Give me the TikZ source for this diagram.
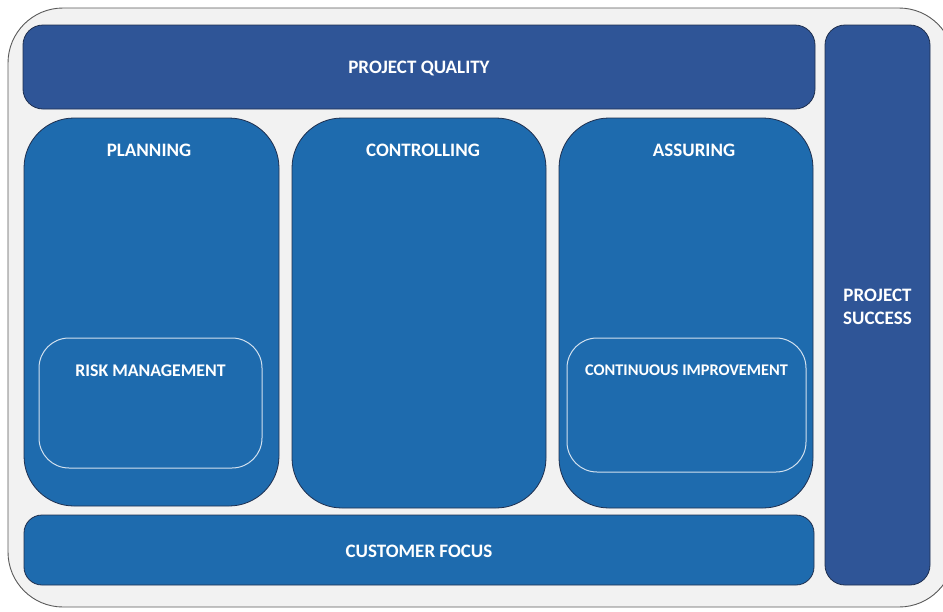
\documentclass[tikz,border=0pt]{standalone}
\usepackage{fontspec}
\setmainfont{Carlito}
\usetikzlibrary{positioning}

\definecolor{qualityblue}{HTML}{2F5597}
\definecolor{pillarblue}{HTML}{1E6BAE}
\definecolor{edgenavy}{HTML}{1F3050}
\definecolor{framegray}{HTML}{F2F2F2}

\tikzset{
    band/.style={draw=edgenavy, line width=0.8pt, fill=qualityblue,
        rounded corners=20pt, inner sep=0pt},
    pillar/.style={draw=edgenavy, line width=0.8pt, fill=pillarblue,
        rounded corners=50pt, inner sep=0pt},
    subbox/.style={draw=white!80!pillarblue, line width=1pt,
        rounded corners=30pt, inner sep=0pt},
    heading/.style={text=white, align=center,
        font=\bfseries\fontsize{19}{23}\selectfont},
}

\begin{document}
\begin{tikzpicture}[x=1pt,y=-1pt]
    \useasboundingbox (0,0) rectangle (943,611);
    \clip (0,0) rectangle (943,611);
    % outer frame, runs past the right edge
    \draw[draw=black!65, fill=framegray, line width=0.9pt,
        rounded corners=55pt] (8,8) rectangle (954,607);

    % top and side bands
    \node[band, minimum width=792, minimum height=84] (quality) at (419,67) {};
    \node[band, minimum width=105, minimum height=560] (success) at (877.5,305) {};

    % the three pillars
    \node[pillar, minimum width=255, minimum height=388] (planning) at (151.5,312) {};
    \node[pillar, minimum width=254, minimum height=390] (controlling) at (419,313) {};
    \node[pillar, minimum width=254, minimum height=390] (assuring) at (686,313) {};

    % bottom band
    \node[pillar, rounded corners=18pt, minimum width=790, minimum height=70]
        (customer) at (419,550) {};

    % inner boxes
    \node[subbox, minimum width=223, minimum height=130] (risk) at (150.5,403) {};
    \node[subbox, minimum width=239, minimum height=134] (improvement) at (686.5,405) {};

    % labels
    \node[heading] (qualitytext) at ([yshift=-1.5pt]quality) {PROJECT QUALITY};
    \node[heading] (successtext) at ([yshift=-1.5pt]success) {PROJECT\\SUCCESS};
    \node[heading] (customertext) at ([yshift=-1pt]customer) {CUSTOMER FOCUS};
    \node[heading] (planningtext) at ([xshift=-2.5pt,yshift=-33pt]planning.north) {PLANNING};
    \node[heading] (controllingtext) at ([xshift=4pt,yshift=-33pt]controlling.north) {CONTROLLING};
    \node[heading] (assuringtext) at ([xshift=8pt,yshift=-33pt]assuring.north) {ASSURING};
    \node[heading, font=\bfseries\fontsize{17.8}{21}\selectfont] (risktext)
        at ([yshift=-33pt]risk.north) {RISK MANAGEMENT};
    \node[heading, font=\bfseries\fontsize{16.3}{20}\selectfont] (improvementtext)
        at ([yshift=-33pt]improvement.north) {CONTINUOUS IMPROVEMENT};
\end{tikzpicture}
\end{document}
